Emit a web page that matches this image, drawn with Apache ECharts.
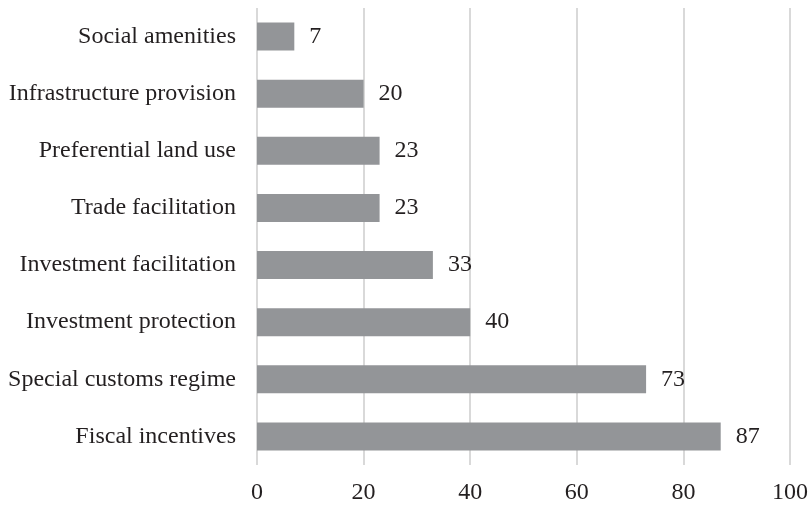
<!DOCTYPE html>
<html>
<head>
<meta charset="utf-8">
<script src="https://cdn.jsdelivr.net/npm/echarts@6/dist/echarts.min.js"></script>
<style>
  html, body { margin: 0; padding: 0; background: #fff; }
  #chart { width: 812px; height: 507px; }
</style>
</head>
<body>
<div id="chart"></div>
<script>
// Incentive categories, listed bottom to top as drawn on the axis
const categories = [
  'Fiscal incentives',
  'Special customs regime',
  'Investment protection',
  'Investment facilitation',
  'Trade facilitation',
  'Preferential land use',
  'Infrastructure provision',
  'Social amenities'
];
const values = [87, 73, 40, 33, 23, 23, 20, 7];
const xTicks = [0, 20, 40, 60, 80, 100];

const font = '"Liberation Serif", "Times New Roman", serif';
const textColor = '#231f20';

const chart = echarts.init(document.getElementById('chart'), null, { renderer: 'canvas' });
chart.setOption({
  animation: false,
  backgroundColor: '#ffffff',
  grid: { left: 257, right: 22, top: 8, bottom: 42, containLabel: false },
  xAxis: {
    type: 'value',
    min: xTicks[0],
    max: xTicks[xTicks.length - 1],
    interval: xTicks[1] - xTicks[0],
    axisLine: { show: false },
    axisTick: { show: false },
    splitLine: { show: true, lineStyle: { color: '#d9d9d9', width: 2 } },
    axisLabel: { color: textColor, fontFamily: font, fontSize: 24, margin: 16 }
  },
  yAxis: {
    type: 'category',
    data: categories,
    axisLine: { show: false },
    axisTick: { show: false },
    splitLine: { show: false },
    axisLabel: { color: textColor, fontFamily: font, fontSize: 24, margin: 21 }
  },
  series: [{
    type: 'bar',
    data: values,
    barWidth: 28,
    itemStyle: { color: '#939598' },
    label: {
      show: true,
      position: 'right',
      distance: 15,
      color: textColor,
      fontFamily: font,
      fontSize: 24
    }
  }]
});
</script>
</body>
</html>
